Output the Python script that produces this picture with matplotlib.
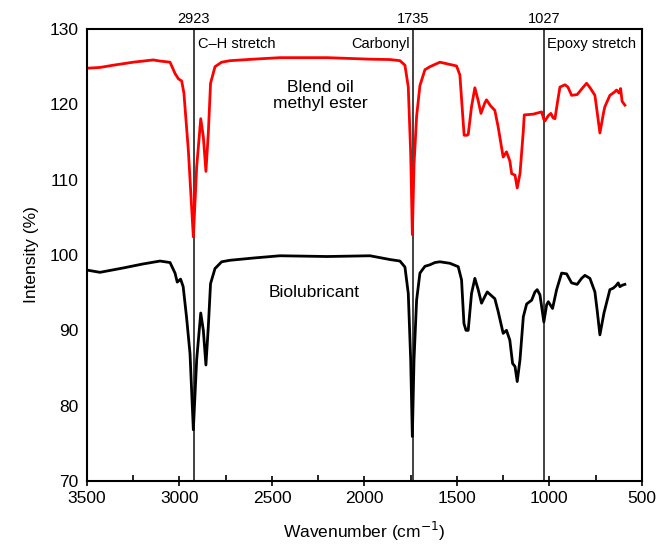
import numpy as np
import matplotlib
matplotlib.use("Agg")
from matplotlib import pyplot as plt
from matplotlib.ticker import MultipleLocator

plt.rcParams['font.family'] = ['Liberation Sans', 'DejaVu Sans']

# Blend oil methyl ester (red)
ester_x = [3500, 3430, 3358, 3250, 3142, 3105, 3051, 3024, 3006, 2988, 2976, 2952, 2925, 2907,
           2885, 2871, 2857, 2844, 2832, 2808, 2772, 2727, 2600, 2457, 2200, 1970, 1862, 1808,
           1781, 1763, 1750, 1741, 1732, 1718, 1700, 1673, 1646, 1592, 1538, 1502, 1484, 1470,
           1461, 1445, 1439, 1421, 1403, 1385, 1370, 1349, 1340, 1318, 1295, 1277, 1250, 1232,
           1214, 1204, 1186, 1174, 1159, 1141, 1136, 1088, 1042, 1030, 1024, 1006, 992, 980,
           970, 955, 943, 916, 900, 880, 850, 820, 799, 780, 754, 742, 727, 705, 700, 673,
           650, 637, 623, 615, 607, 592]
ester_y = [124.8, 124.9, 125.2, 125.6, 125.9, 125.75, 125.6, 124.1, 123.4, 123.1, 121.5, 113.9,
           102.4, 111.7, 118.1, 115.7, 111.1, 116.2, 122.8, 125.0, 125.6, 125.8, 126.0, 126.2,
           126.2, 126.0, 125.95, 125.8, 125.2, 122.3, 113.5, 102.7, 112.0, 118.4, 122.5, 124.6,
           125.0, 125.6, 125.3, 125.1, 123.9, 119.0, 115.9, 115.9, 116.0, 119.7, 122.2, 120.5,
           118.8, 120.2, 120.6, 119.8, 119.2, 117.0, 113.0, 113.7, 112.5, 110.8, 110.6, 108.9,
           110.8, 116.5, 118.6, 118.7, 119.0, 118.0, 117.8, 118.5, 118.8, 118.2, 118.1, 120.5,
           122.3, 122.6, 122.3, 121.2, 121.3, 122.2, 122.8, 122.2, 121.2, 119.0, 116.2, 119.2,
           119.7, 121.2, 121.6, 121.9, 121.5, 122.1, 120.4, 119.9]

# Biolubricant (black)
bio_x = [3500, 3430, 3300, 3200, 3105, 3051, 3024, 3012, 2994, 2980, 2962, 2943, 2925, 2907,
         2885, 2871, 2857, 2844, 2832, 2808, 2772, 2727, 2600, 2457, 2200, 1970, 1862, 1808,
         1781, 1763, 1750, 1741, 1732, 1718, 1700, 1673, 1646, 1619, 1592, 1538, 1493, 1475,
         1462, 1451, 1439, 1421, 1403, 1385, 1367, 1349, 1336, 1318, 1295, 1277, 1250, 1232,
         1214, 1199, 1186, 1174, 1159, 1141, 1123, 1096, 1078, 1066, 1051, 1030, 1015, 1006,
         983, 961, 934, 907, 880, 850, 826, 808, 781, 754, 742, 727, 705, 673, 655, 641, 628,
         619, 605, 592]
bio_y = [98.0, 97.7, 98.3, 98.8, 99.2, 99.0, 97.6, 96.4, 96.8, 95.8, 91.8, 86.9, 76.8, 86.1,
         92.3, 90.0, 85.4, 90.5, 96.2, 98.2, 99.1, 99.3, 99.6, 99.9, 99.8, 99.9, 99.4, 99.2,
         98.4, 94.9, 86.1, 75.9, 86.1, 94.0, 97.6, 98.5, 98.7, 99.0, 99.1, 98.9, 98.45, 96.7,
         90.9, 90.0, 90.0, 94.9, 96.9, 95.4, 93.6, 94.5, 95.1, 94.7, 94.2, 92.5, 89.6, 90.0,
         88.7, 85.6, 85.2, 83.2, 86.1, 91.8, 93.5, 94.0, 95.1, 95.4, 94.7, 91.1, 93.4, 93.8,
         92.9, 95.4, 97.6, 97.5, 96.3, 96.1, 96.9, 97.3, 96.9, 95.1, 92.7, 89.4, 92.3, 95.4,
         95.6, 95.9, 96.3, 95.8, 96.0, 96.1]

peaks = [2923, 1735, 1027]

fig = plt.figure(figsize=(6.57, 5.48), dpi=100)
ax = fig.add_axes([0.1324, 0.1223, 0.8446, 0.8247])

ax.plot(ester_x, ester_y, color='#ff0000', lw=2, solid_joinstyle='round')
ax.plot(bio_x, bio_y, color='black', lw=2, solid_joinstyle='round')

for p in peaks:
    ax.axvline(p, color='#333333', lw=1.3, zorder=0)
    ax.text(p, 130.4, str(p), ha='center', va='bottom', fontsize=10.5)

ax.text(2900, 128.0, 'C\u2013H stretch', ha='left', va='center', fontsize=10.5)
ax.text(1755, 128.0, 'Carbonyl', ha='right', va='center', fontsize=10.5)
ax.text(1012, 128.0, 'Epoxy stretch', ha='left', va='center', fontsize=10.5)
ax.text(2240, 121.2, 'Blend oil\nmethyl ester', ha='center', va='center', fontsize=12.5,
        linespacing=1.1)
ax.text(2270, 95.0, 'Biolubricant', ha='center', va='center', fontsize=12.5)

ax.set_xlim(3500, 500)
ax.set_ylim(70, 130)
ax.xaxis.set_major_locator(MultipleLocator(500))
ax.xaxis.set_minor_locator(MultipleLocator(250))
ax.yaxis.set_major_locator(MultipleLocator(10))
ax.tick_params(axis='x', which='major', direction='inout', length=7, width=1.2, labelsize=12.5)
ax.tick_params(axis='x', which='minor', direction='in', length=4, width=1.2)
ax.tick_params(axis='y', length=0, labelsize=12.5, pad=6)
for s in ax.spines.values():
    s.set_linewidth(1.5)

ax.set_xlabel('Wavenumber (cm$^{-1}$)', fontsize=12.5, labelpad=10)
ax.set_ylabel('Intensity (%)', fontsize=12.5, labelpad=8)

fig.savefig('out.png', dpi=100)
